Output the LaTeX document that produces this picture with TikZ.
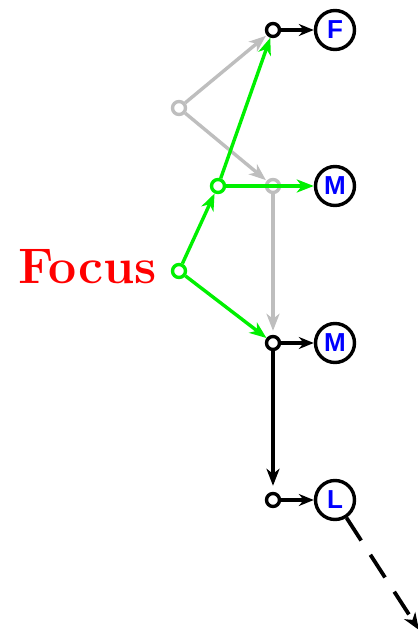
\documentclass[tikz,border=0pt]{standalone}
\usepackage{fontspec}
\newfontfamily\stagefont{Liberation Sans}
\usetikzlibrary{arrows.meta,positioning}
\definecolor{hilite}{HTML}{00F000}
\definecolor{faded} {HTML}{BEBEBE}
\definecolor{focred}{HTML}{FF0000}
\definecolor{letter}{HTML}{0000FF}

\begin{document}
\begin{tikzpicture}[x=1pt,y=-1pt,
    dot/.style={circle, draw, line width=3.4pt, inner sep=0pt, minimum size=13pt},
    stage/.style={circle, draw, line width=3.4pt, inner sep=0pt, minimum size=39pt,
                  text=letter, font=\stagefont\bfseries\fontsize{26}{26}\selectfont},
    link/.style={line width=3.4pt, -{Stealth[length=17pt,width=13pt,inset=5pt]}},
    shortlink/.style={link, -{Stealth[length=15pt,width=12pt,inset=5pt]}}]
  \useasboundingbox (0,0) rectangle (417,644);
  % faded alternative path
  \node[dot, faded] (alt)   at (179,108) {};
  \node[dot, faded] (altm)  at (273,186) {};
  % highlighted path
  \node[dot, hilite] (focus) at (179,271) {};
  \node[dot, hilite] (mid)   at (218,186) {};
  \node[font=\bfseries\fontsize{50}{50}\selectfont, text=focred, inner sep=0pt,
        anchor=base east] (focuslbl) at (157,283) {Focus};
  % main column
  \node[dot] (jf) at (273,30)  {};
  \node[dot] (jm) at (273,343) {};
  \node[dot] (jl) at (273,500) {};
  \node[stage] (sf) at (335,30)  {F};
  \node[stage] (sm) at (335,186) {M};
  \node[stage] (sm2) at (335,343) {M};
  \node[stage] (sl) at (335,500) {L};
  \coordinate (out) at (419,630);
  % faded edges
  \draw[link, faded, shorten >=1pt] (alt) -- (jf);
  \draw[link, faded, shorten >=1pt] (alt) -- (altm);
  \draw[link, faded, shorten >=4pt] (altm) -- (jm);
  % highlighted edges
  \draw[link, hilite] (focus) -- (mid);
  \draw[link, hilite] (mid) -- (jf);
  \draw[link, hilite] (mid) -- (sm);
  \draw[link, hilite] (focus) -- (jm);
  % main edges
  \draw[shortlink] (jf) -- (sf);
  \draw[shortlink] (jm) -- (sm2);
  \draw[shortlink] (jl) -- (sl);
  \draw[link, shorten >=6pt] (jm) -- (jl);
  \draw[link, line width=3.8pt, dash pattern=on 27pt off 17pt] (sl) -- (out);
\end{tikzpicture}
\end{document}
